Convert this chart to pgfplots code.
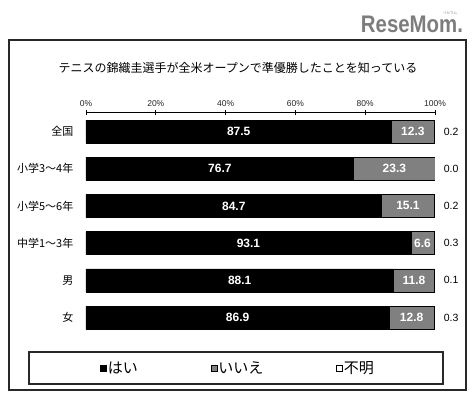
\documentclass[border=0pt]{standalone}
\usepackage{pgfplots}
\pgfplotsset{compat=1.18}
\usepackage{pgfplotstable}
\usepackage{fontspec}
\setmainfont{Liberation Sans}
\newfontfamily\jp{Noto Sans CJK JP}
\definecolor{bargray}{RGB}{128,128,128}
\definecolor{framegray}{RGB}{40,40,40}
\definecolor{logogray}{RGB}{125,125,125}

\pgfplotstableread{
idx yes no unk
0 87.5 12.3 0.2
1 76.7 23.3 0.0
2 84.7 15.1 0.2
3 93.1 6.6 0.3
4 88.1 11.8 0.1
5 86.9 12.8 0.3
}\datatable

\begin{document}
\begin{tikzpicture}
\path (0pt,0pt) rectangle (475pt,399pt);
\draw[framegray, line width=1.5pt] (9pt,9pt) rectangle (466pt,359pt);
\node[font=\jp\fontsize{12}{14}\selectfont] at (238pt,331pt) {テニスの錦織圭選手が全米オープンで準優勝したことを知っている};
\node[text=logogray, font=\bfseries\fontsize{24}{26}\selectfont, inner sep=0pt] at (412pt,375pt) {\scalebox{0.85}[1]{ReseMom.}};
\node[text=logogray, font=\jp\fontsize{3.5}{4}\selectfont, inner sep=0pt] at (450pt,386pt) {リセマム};
\draw[framegray, line width=1.3pt] (29pt,15pt) rectangle (443pt,47pt);

\begin{axis}[
  at={(86pt,62.9pt)}, anchor=south west,
  scale only axis, width=349pt, height=223.2pt,
  xbar stacked, bar width=23pt,
  xmin=0, xmax=100, ymin=-0.5, ymax=5.5, y dir=reverse,
  axis x line*=top, axis y line*=left,
  y axis line style={draw=none},
  ytick=data, yticklabels={全国,小学3～4年,小学5～6年,中学1～3年,男,女},
  yticklabel style={font=\jp\fontsize{11}{13}\selectfont, anchor=east, inner sep=0pt, xshift=-10pt},
  ytick style={draw=none},
  xtick={0,20,40,60,80,100},
  xticklabels={0\%,20\%,40\%,60\%,80\%,100\%},
  xticklabel style={font=\fontsize{8.5}{10}\selectfont, text=black!85},
  tick align=center, major tick length=5pt,
  x axis line style={line width=0.9pt, black}, xtick style={black, line width=0.9pt},
  legend columns=3,
  legend style={draw=none, fill=none, at={(0.04,-0.143)}, anchor=west, inner sep=0pt,
    font=\jp\fontsize{15}{17}\selectfont,
    nodes={inner sep=1pt},
    /tikz/every even column/.append style={column sep=72pt}},
  legend image code/.code={\draw[#1,draw=black,line width=0.6pt] (0pt,-3pt) rectangle (6pt,3pt);},
]
\addplot[fill=black, draw=black] table[x=yes, y=idx] {\datatable};
\addplot[fill=bargray, draw=black] table[x=no, y=idx] {\datatable};
\addplot[fill=white, draw=black] table[x=unk, y=idx] {\datatable};
\legend{はい,いいえ,不明}
\end{axis}

\begin{axis}[
  at={(86pt,62.9pt)}, anchor=south west,
  scale only axis, width=349pt, height=223.2pt,
  xmin=0, xmax=100, ymin=-0.5, ymax=5.5, y dir=reverse,
  hide axis, clip=false]
\addplot[draw=none, mark=none, nodes near coords, point meta=explicit symbolic,
  every node near coord/.append style={anchor=center, text=white, font=\bfseries\fontsize{12}{14}\selectfont}]
  table[x expr={\thisrow{yes}/2}, y=idx, meta=yes] {\datatable};
\addplot[draw=none, mark=none, nodes near coords, point meta=explicit symbolic,
  every node near coord/.append style={anchor=center, text=white, font=\bfseries\fontsize{12}{14}\selectfont}]
  table[x expr={\thisrow{yes}+\thisrow{no}/2}, y=idx, meta=no] {\datatable};
\addplot[draw=none, mark=none, nodes near coords, point meta=explicit symbolic,
  every node near coord/.append style={anchor=center, text=black, font=\fontsize{10.5}{12}\selectfont}]
  table[x expr={104.6}, y=idx, meta=unk] {\datatable};
\end{axis}
\end{tikzpicture}
\end{document}
